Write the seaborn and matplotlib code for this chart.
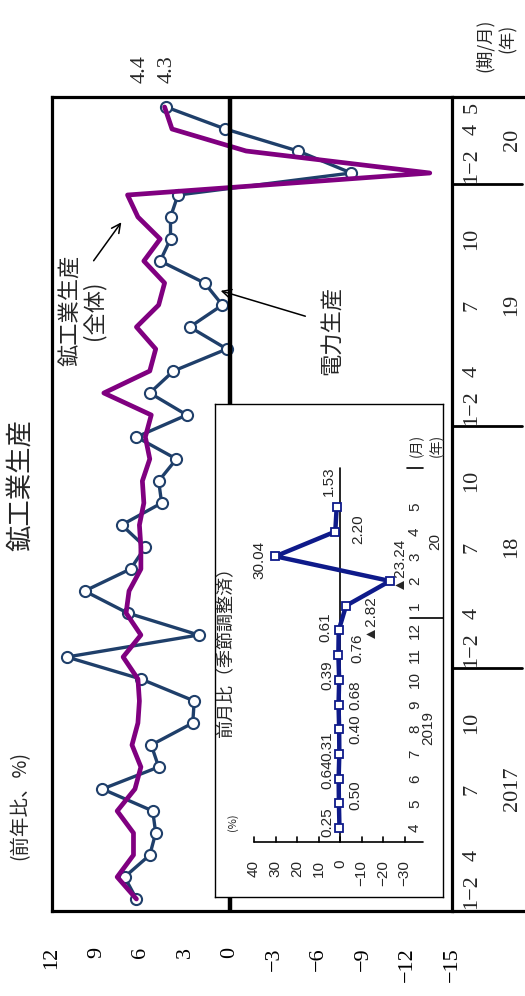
import numpy as np
import pandas as pd
import matplotlib
matplotlib.use("Agg")
import matplotlib.pyplot as plt
import seaborn as sns
from matplotlib import font_manager

# ---------------- data ----------------
period_months = (["1−2", "3", "4", "5", "6", "7", "8", "9", "10", "11", "12"] * 3
                 + ["1−2", "3", "4", "5"])
period_years = ["2017"] * 11 + ["18"] * 11 + ["19"] * 11 + ["20"] * 4
ip_yoy = [6.3, 7.6, 6.5, 6.5, 7.6, 6.4, 6.0, 6.6, 6.2, 6.1, 6.2,
          7.2, 6.0, 7.0, 6.8, 6.0, 6.0, 6.1, 5.8, 5.9, 5.4, 5.7,
          5.3, 8.5, 5.4, 5.0, 6.3, 4.8, 4.4, 5.8, 4.7, 6.2, 6.9,
          -13.5, -1.1, 3.9, 4.4]
power_yoy = [6.3, 7.1, 5.4, 5.0, 5.2, 8.6, 4.8, 5.3, 2.5, 2.4, 6.0,
             11.0, 2.1, 6.9, 9.8, 6.7, 5.7, 7.3, 4.6, 4.8, 3.6, 6.3,
             2.9, 5.4, 3.8, 0.2, 2.7, 0.5, 1.7, 4.7, 4.0, 4.0, 3.5,
             -8.2, -4.6, 0.3, 4.3]
value_ticks = [12, 9, 6, 3, 0, -3, -6, -9, -12, -15]
month_tick_set = ["1−2", "4", "7", "10"]
end_labels = ["4.4", "4.3"]

mom_months = ["4", "5", "6", "7", "8", "9", "10", "11", "12", "1", "2", "3", "4", "5"]
mom_years = ["2019"] * 9 + ["20"] * 5
mom_values = [0.25, 0.50, 0.64, 0.31, 0.40, 0.68, 0.39, 0.76, 0.61,
              -2.82, -23.24, 30.04, 2.20, 1.53]
mom_ticks = [40, 30, 20, 10, 0, -10, -20, -30]

# ---------------- style ----------------
sns.set_theme(style="white")
names = {f.name for f in font_manager.fontManager.ttflist}
SERIF = ["Liberation Serif", "Noto Sans CJK JP", "DejaVu Sans"]
CJK = ["Noto Sans CJK JP", "DejaVu Sans"]
NARROW = (["Liberation Sans Narrow"] if "Liberation Sans Narrow" in names else ["Liberation Sans"]) + ["DejaVu Sans"]
plt.rcParams["font.family"] = SERIF
plt.rcParams["axes.unicode_minus"] = True

PURPLE = "#800080"
NAVY = "#1F3F6A"
INSET_BLUE = "#0E1A8A"

W, H = 525, 996
fig = plt.figure(figsize=(W / 100, H / 100), dpi=100)

# main axes (pixel box: x 52..452, y 97..911)
AX_L, AX_R, AX_T, AX_B = 52, 452, 97, 911
ax = fig.add_axes([AX_L / W, 1 - AX_B / H, (AX_R - AX_L) / W, (AX_B - AX_T) / H])
XMAX, XMIN = 12, -15
PX_PER_IDX = 22.0
Y0 = 899  # pixel of first period
ylo = (Y0 - AX_B) / PX_PER_IDX
yhi = (Y0 - AX_T) / PX_PER_IDX


def vx(px):
    return XMAX - (px - AX_L) * (XMAX - XMIN) / (AX_R - AX_L)


def iy(py):
    return (Y0 - py) / PX_PER_IDX


idx = np.arange(len(ip_yoy))
df = pd.DataFrame({"idx": idx, "ip": ip_yoy, "power": power_yoy})

sns.lineplot(data=df, x="power", y="idx", ax=ax, sort=False, estimator=None,
             color=NAVY, lw=2.4, marker="o", ms=8, mfc="white", mec=NAVY, mew=1.5, zorder=3)
sns.lineplot(data=df, x="ip", y="idx", ax=ax, sort=False, estimator=None,
             color=PURPLE, lw=3.4, zorder=4)
ax.axvline(0, color="black", lw=3.2, zorder=5)

ax.set_xlim(XMAX, XMIN)
ax.set_ylim(ylo, yhi)
ax.set_xlabel("")
ax.set_ylabel("")
ax.set_yticks([])
ax.set_xticks(value_ticks)
ax.set_xticklabels([str(v).replace("-", "−") for v in value_ticks])
ax.tick_params(axis="x", direction="in", length=5, width=1.6, labelrotation=90,
               pad=26, labelsize=16, colors="black")
for sp in ax.spines.values():
    sp.set_color("black")
    sp.set_linewidth(2.3)

# extension lines on the right (outside the plot)
x_out = vx(522)
for yy in [ylo, yhi]:
    ax.plot([XMIN, vx(525)], [yy, yy], color="black", lw=2.3, clip_on=False,
            solid_capstyle="butt")
years_order = []
for y in period_years:
    if y not in years_order:
        years_order.append(y)
for y in years_order[1:]:
    b = period_years.index(y) - 0.5
    ax.plot([XMIN, x_out], [b, b], color="black", lw=2.0, clip_on=False)

# month labels
for i, m in enumerate(period_months):
    if m in month_tick_set or i == len(period_months) - 1:
        off = 0.35 if m == "1−2" else 0.0
        ax.text(vx(472), i + off, m, rotation=90, ha="center", va="center",
                fontsize=16, family=SERIF, clip_on=False)
for y in years_order:
    pos = [i for i, yy in enumerate(period_years) if yy == y]
    ax.text(vx(512), (pos[0] + pos[-1]) / 2, y, rotation=90, ha="center", va="center",
            fontsize=16, family=SERIF, clip_on=False)

# end-value labels
ax.text(vx(140), iy(69), end_labels[0], rotation=90, ha="center", va="center",
        fontsize=16, family=SERIF, clip_on=False)
ax.text(vx(167), iy(69), end_labels[1], rotation=90, ha="center", va="center",
        fontsize=16, family=SERIF, clip_on=False)

# annotations
ax.text(vx(82), iy(310), "鉱工業生産\n(全体)", rotation=90, ha="center", va="center",
        multialignment="center", fontsize=16, family=CJK, linespacing=1.0, zorder=6)
ax.annotate("", xy=(vx(123), iy(220)), xytext=(vx(92), iy(263)),
            arrowprops=dict(arrowstyle="->", lw=1.1, color="black", mutation_scale=16))
ax.text(vx(332), iy(330), "電力生産", rotation=90, ha="center", va="center",
        fontsize=16, family=CJK, zorder=6)
ax.annotate("", xy=(vx(218), iy(290)), xytext=(vx(308), iy(317)),
            arrowprops=dict(arrowstyle="->", lw=1.1, color="black", mutation_scale=16))

# figure texts
fig.text(21 / W, 1 - 485 / H, "鉱工業生産", rotation=90, ha="center", va="center",
         fontsize=19, family=CJK)
fig.text(20 / W, 1 - 805 / H, "(前年比、%)", rotation=90, ha="center", va="center",
         fontsize=14, family=CJK)
fig.text(485 / W, 1 - 45 / H, "(期/月)", rotation=90, ha="center", va="center",
         fontsize=12.5, family=CJK)
fig.text(508 / W, 1 - 38 / H, "(年)", rotation=90, ha="center", va="center",
         fontsize=12.5, family=CJK)

# ---------------- inset ----------------
IL, IR, IT, IB = 215, 443, 404, 897
iax = fig.add_axes([IL / W, 1 - IB / H, (IR - IL) / W, (IB - IT) / H], zorder=6)
ZERO_PX, PX_PER_UNIT = 340, 2.15
I0_PY, PX_PER_M = 828, 24.7


def ivx(px):
    return (ZERO_PX - px) / PX_PER_UNIT


def iiy(py):
    return (I0_PY - py) / PX_PER_M


iax.set_facecolor("white")
iax.set_xlim(ivx(IL), ivx(IR))
iax.set_ylim(iiy(IB), iiy(IT))
iax.set_xticks([])
iax.set_yticks([])
for sp in iax.spines.values():
    sp.set_visible(True)
    sp.set_color("black")
    sp.set_linewidth(1.0)

ibot, itop = iiy(842), iiy(468)
iax.plot([0, 0], [ibot, itop], color="black", lw=1.2, zorder=2)
iax.plot([max(mom_ticks), ivx(423)], [ibot, ibot], color="black", lw=1.2, zorder=2)
for t in mom_ticks:
    iax.plot([t, t], [ibot, ibot + 0.2], color="black", lw=1.2)
    iax.text(t, iiy(860), str(t).replace("-", "−"), rotation=90, ha="center", va="top",
             fontsize=11, family=NARROW)
iax.plot([ivx(407), ivx(423)], [itop, itop], color="black", lw=1.2)
sep = mom_years.index("20") - 0.5
iax.plot([ivx(410), ivx(IR)], [sep, sep], color="black", lw=1.2)

im = np.arange(len(mom_values))
sns.lineplot(x=mom_values, y=im, ax=iax, sort=False, estimator=None, color=INSET_BLUE,
             lw=3.2, marker="s", ms=5.5, mfc="white", mec=INSET_BLUE, mew=1.3, zorder=4)
iax.set_xlim(ivx(IL), ivx(IR))
iax.set_ylim(iiy(IB), iiy(IT))

for i, m in enumerate(mom_months):
    iax.text(ivx(415), i, m, rotation=90, ha="center", va="center", fontsize=11, family=NARROW)
iax.text(ivx(428), 4.05, mom_years[0], rotation=90, ha="center", va="center",
         fontsize=11, family=NARROW)
iax.text(ivx(435), 11.6, mom_years[-1], rotation=90, ha="center", va="center",
         fontsize=11, family=NARROW)
iax.text(ivx(417), iiy(445), "(月)", rotation=90, ha="center", va="center", fontsize=10, family=CJK)
iax.text(ivx(437), iiy(445), "(年)", rotation=90, ha="center", va="center", fontsize=10, family=CJK)
iax.text(ivx(226), iiy(648), "前月比（季節調整済）", rotation=90, ha="center", va="center",
         fontsize=13, family=CJK)
iax.text(ivx(233), iiy(822), "(%)", rotation=90, ha="center", va="center", fontsize=8, family=CJK)

# value labels: column pixel and vertical shift (months)
lab_px = [327, 355, 327, 327, 355, 355, 327, 357, 325, 369, 398, 259, 358, 329]
lab_dy = [0.24, 0.34, 0.19, 0.32, 0.0, 0.38, 0.19, 0.29, 0.14, -0.42, 0.74, -0.15, 0.1, 1.05]
for i, v in enumerate(mom_values):
    s = f"{abs(v):.2f}"
    if v < 0:
        s = "▲" + s
    iax.text(ivx(lab_px[i]), i + lab_dy[i], s, rotation=90, ha="center", va="center",
             fontsize=11, family=NARROW)

fig.savefig("out.png", dpi=100)
